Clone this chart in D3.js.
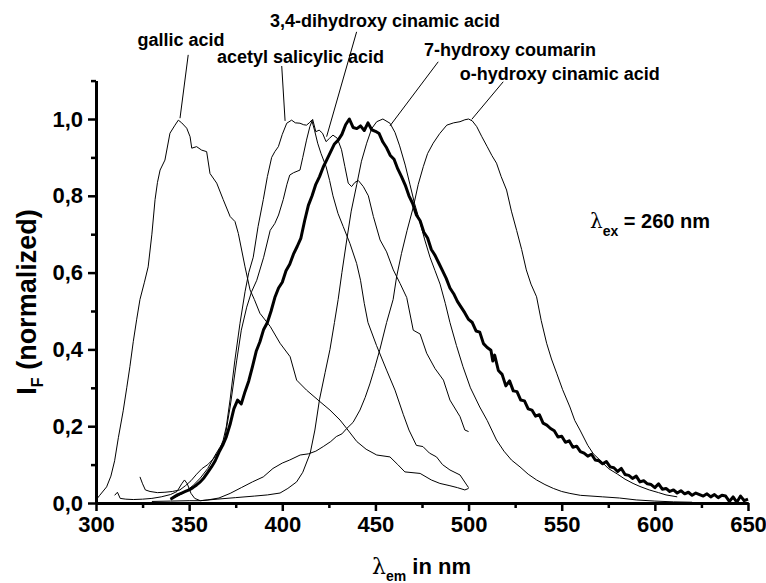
<!DOCTYPE html>
<html><head><meta charset="utf-8">
<script src="https://cdn.jsdelivr.net/npm/d3@7"></script>
<style>body{margin:0;background:#fff}</style>
</head><body>
<svg id="c" width="766" height="583"></svg>
<script>
// ---- data: [wavelength nm, normalized intensity] ----
const gallicData = [[300,0.008],[302,0.02],[305.7,0.042],[308,0.07],[310,0.11],[312,0.17],[314.6,0.24],[316.5,0.30],[318.2,0.355],[320,0.42],[321.8,0.477],[323.6,0.53],[326,0.575],[328,0.615],[330,0.70],[331.7,0.79],[333,0.835],[334.4,0.867],[337,0.893],[339.7,0.963],[342.4,0.984],[344.2,0.997],[346,0.99],[348.7,0.976],[350.5,0.954],[351.4,0.924],[354,0.928],[356.7,0.919],[359.4,0.915],[361.2,0.858],[364.8,0.833],[368.3,0.79],[372,0.746],[374.6,0.733],[376.4,0.702],[380,0.615],[382.7,0.555],[385,0.53],[388,0.494],[393.5,0.46],[398.8,0.416],[404.2,0.381],[407.7,0.32],[413,0.294],[420.2,0.264],[425.6,0.242],[431,0.216],[434.6,0.194],[440,0.16],[445,0.14],[450.7,0.125],[457.8,0.12],[462,0.10],[465.8,0.081],[474,0.077],[480,0.06],[484.6,0.051],[490,0.045],[494,0.04],[498,0.034],[500,0.038]];
const acetylData = [[323.6,0.068],[325,0.05],[326.5,0.034],[329,0.03],[333,0.027],[337,0.028],[341,0.03],[345,0.034],[348,0.045],[351,0.058],[354,0.075],[357,0.09],[360,0.10],[363,0.115],[366,0.135],[368.3,0.164],[370,0.20],[372,0.27],[374.5,0.37],[377.3,0.468],[380,0.55],[382,0.60],[384.4,0.64],[387,0.72],[389.8,0.79],[392,0.85],[394.3,0.90],[396,0.915],[397.9,0.928],[400,0.96],[402.4,0.989],[405,0.997],[407,0.99],[409.5,0.989],[411.5,0.985],[413,0.984],[414.5,0.99],[415.8,0.997],[417.3,0.971],[419,0.937],[420.8,0.91],[423.5,0.876],[425.4,0.84],[427.2,0.80],[429.9,0.754],[432.7,0.72],[436.3,0.676],[439.9,0.624],[442,0.58],[444,0.52],[446,0.47],[450.6,0.41],[456,0.346],[460.5,0.294],[465,0.23],[468,0.19],[472,0.15],[475.5,0.147],[479,0.13],[482.8,0.12],[486,0.10],[490,0.086],[495.4,0.073],[499,0.047],[500,0.04]];
const dihydroxyData = [[340,0.01],[344,0.018],[348,0.03],[352,0.045],[356,0.065],[360,0.09],[364,0.125],[366.5,0.145],[369,0.164],[372,0.25],[375.5,0.37],[378,0.45],[380.9,0.51],[383.5,0.55],[386.3,0.58],[390,0.64],[393.5,0.71],[396,0.728],[398,0.75],[400.5,0.79],[402.5,0.83],[404,0.854],[406,0.86],[409.5,0.867],[411,0.90],[413,0.945],[414.8,0.98],[416.3,0.999],[418,0.967],[419.8,0.971],[421.6,0.963],[423.5,0.941],[425.4,0.95],[427.2,0.958],[429.5,0.95],[431.8,0.92],[433.6,0.876],[435.4,0.833],[437.2,0.824],[439,0.835],[440.8,0.84],[443.5,0.824],[446.2,0.80],[448.9,0.746],[452.5,0.685],[456,0.654],[459.6,0.607],[463.2,0.572],[466.8,0.535],[470.3,0.45],[474,0.44],[477.5,0.39],[482,0.35],[486.5,0.32],[490,0.268],[495.4,0.225],[498,0.19],[500,0.186]];
const coumarinData = [[330,0.004],[340,0.005],[350,0.006],[356,0.006],[365,0.01],[375,0.014],[385,0.018],[392,0.021],[398.8,0.026],[403,0.038],[407.7,0.055],[411,0.08],[415,0.13],[417.5,0.19],[420,0.27],[423,0.34],[425.6,0.40],[428,0.47],[430,0.53],[432,0.60],[434.6,0.685],[437,0.76],[440,0.83],[442.5,0.89],[445.3,0.937],[448,0.975],[450.7,0.993],[454,1.0],[457.8,0.989],[460.5,0.965],[463,0.93],[466,0.88],[468.5,0.83],[471,0.78],[474,0.73],[476.5,0.685],[479.3,0.64],[482,0.605],[484.7,0.57],[487.5,0.52],[490,0.47],[493.5,0.41],[497,0.355],[501,0.30],[506,0.25],[510,0.215],[515,0.164],[519,0.135],[523,0.112],[527.6,0.094],[532,0.075],[536.5,0.06],[541,0.048],[545.5,0.038],[550,0.03],[554.4,0.025],[560,0.02],[572,0.016],[581,0.013],[590,0.008],[600,0.005],[610,0.003],[620,0.002]];
const ohydroxyData = [[310,0.02],[311.5,0.028],[313,0.012],[316,0.01],[320,0.009],[325,0.01],[330,0.012],[335,0.016],[340,0.022],[343.5,0.03],[346,0.05],[347.5,0.06],[349,0.05],[351,0.025],[353,0.012],[356,0.006],[360,0.008],[366,0.013],[372,0.025],[378,0.04],[384,0.055],[389.8,0.068],[395,0.09],[400,0.104],[404,0.112],[409.6,0.125],[414,0.128],[418,0.135],[422,0.147],[426,0.16],[429,0.173],[432,0.18],[434.6,0.194],[438,0.21],[441.7,0.242],[444.5,0.275],[447,0.31],[449.5,0.35],[452.4,0.40],[456,0.47],[459.5,0.53],[461.4,0.59],[464,0.65],[467,0.71],[470.3,0.77],[473,0.83],[475.7,0.876],[478,0.91],[481,0.937],[484.5,0.962],[488.3,0.984],[492,0.99],[495.4,0.993],[498,0.998],[500,1.0],[502,0.995],[504.4,0.98],[507,0.955],[510,0.928],[512.5,0.905],[515,0.885],[517.5,0.85],[520.4,0.815],[523,0.76],[525.8,0.71],[528.5,0.66],[531,0.607],[533.5,0.57],[536.5,0.537],[539,0.475],[541.9,0.416],[544.5,0.375],[547.3,0.338],[550.5,0.295],[554.4,0.25],[557,0.215],[559.8,0.19],[564,0.15],[567,0.128],[570.5,0.112],[575,0.09],[580,0.075],[584,0.062],[588.3,0.051],[592,0.043],[597,0.034],[602,0.027],[606,0.021],[612,0.016]];
const sampleData = [[340,0.010],[342,0.016],[344,0.022],[346,0.026],[348,0.030],[350,0.034],[352,0.040],[354,0.047],[356,0.055],[358,0.066],[360,0.080],[362,0.094],[364,0.110],[366,0.132],[368,0.150],[370,0.173],[372,0.205],[374,0.245],[376,0.268],[378,0.258],[380,0.290],[382,0.318],[384,0.355],[386,0.395],[388,0.420],[390,0.452],[392,0.470],[394,0.500],[396,0.535],[398,0.560],[400,0.575],[402,0.605],[404,0.622],[406,0.648],[408,0.668],[410,0.690],[412,0.735],[414,0.775],[416,0.800],[418,0.830],[420,0.850],[422,0.875],[424,0.895],[426,0.915],[428,0.935],[430,0.945],[432,0.960],[434,0.985],[436,1.000],[438,0.978],[440,0.975],[442,0.982],[444,0.970],[446,0.990],[448,0.972],[450,0.968],[452,0.962],[454,0.940],[456,0.925],[458,0.905],[460,0.895],[462,0.870],[464,0.850],[466,0.828],[468,0.800],[470,0.780],[472,0.750],[474,0.735],[476,0.705],[478,0.690],[480,0.660],[482,0.645],[484,0.625],[486,0.605],[488,0.585],[490,0.560],[492,0.545],[494,0.525],[496,0.510],[498,0.495],[500,0.478],[502,0.470],[504,0.448],[506,0.445],[508,0.415],[510,0.405],[512,0.398],[513,0.370],[514,0.385],[516,0.345],[518,0.335],[520,0.305],[522,0.318],[524,0.292],[526,0.290],[528,0.268],[530,0.266],[532,0.245],[534,0.242],[536,0.226],[538,0.230],[540,0.208],[542,0.203],[544,0.194],[546,0.188],[548,0.172],[550,0.174],[552,0.158],[554,0.162],[556,0.145],[558,0.148],[560,0.134],[562,0.130],[564,0.122],[566,0.127],[568,0.112],[570,0.110],[572,0.102],[574,0.108],[576,0.094],[578,0.092],[580,0.082],[582,0.090],[584,0.074],[586,0.072],[588,0.064],[590,0.070],[592,0.055],[594,0.058],[596,0.050],[598,0.048],[600,0.040],[602,0.050],[604,0.036],[606,0.038],[608,0.030],[610,0.034],[612,0.026],[614,0.032],[616,0.024],[618,0.028],[620,0.020],[622,0.026],[624,0.022],[626,0.018],[628,0.024],[630,0.016],[632,0.022],[634,0.014],[636,0.020],[638,0.018],[640,0.004],[642,0.016],[644,0.002],[646,0.018],[648,0.006],[650,0.010]];

const xMajorTicks = [300,350,400,450,500,550,600,650];
const xMinorTicks = [325,375,425,475,525,575,625];
const yMajorTicks = [0,0.2,0.4,0.6,0.8,1.0];
const yMinorTicks = [0.1,0.3,0.5,0.7,0.9,1.1];

const labels = ["gallic acid","acetyl salicylic acid","3,4-dihydroxy cinamic acid","7-hydroxy coumarin","o-hydroxy cinamic acid"];
const labelAt = [[345.6,1.19],[409.8,1.146],[455.1,1.24],[522.2,1.164],[549,1.102]];
const leaderFrom = [[349.5,1.167],[399.7,1.138],[439.9,1.227],[483.7,1.149],[518.6,1.097]];
const leaderTo = [[345.1,1.002],[401.5,0.995],[423.8,0.954],[457.8,0.982],[501.7,0.999]];

// ---- drawing ----
const svg = d3.select("#c");
const FONT = "'Liberation Sans', Arial, sans-serif";
const x = d3.scaleLinear().domain([300,650]).range([96,748]);
const y = d3.scaleLinear().domain([0,1.1]).range([503,80.6]);

const line = d3.line().x(d=>x(d[0])).y(d=>y(d[1]));
const thin = [gallicData, acetylData, dihydroxyData, coumarinData, ohydroxyData];
svg.append("g").selectAll("path").data(thin).join("path")
  .attr("d", line).attr("fill","none").attr("stroke","#000").attr("stroke-width",1)
  .attr("stroke-linejoin","round");
svg.append("path").datum(sampleData).attr("d", line).attr("fill","none")
  .attr("stroke","#000").attr("stroke-width",3).attr("stroke-linejoin","round");

// axes
function styleAxis(g){
  g.select(".domain").attr("stroke-width",3);
  g.selectAll(".tick line").attr("stroke-width",2.5);
  g.selectAll("text").attr("font-family",FONT).attr("font-weight","bold").attr("font-size",22).attr("fill","#000");
}
const fmtY = d => d3.format(".1f")(d).replace(".",",");
svg.append("g").attr("transform","translate(0,503)")
  .call(d3.axisBottom(x).tickValues(xMinorTicks).tickSize(5).tickSizeOuter(0).tickFormat(""))
  .call(styleAxis);
svg.append("g").attr("transform","translate(0,503)")
  .call(d3.axisBottom(x).tickValues(xMajorTicks).tickSize(8).tickSizeOuter(0).tickPadding(5))
  .call(styleAxis);
svg.append("g").attr("transform","translate(96,0)")
  .call(d3.axisLeft(y).tickValues(yMinorTicks).tickSize(5).tickSizeOuter(0).tickFormat(""))
  .call(styleAxis);
svg.append("g").attr("transform","translate(96,0)")
  .call(d3.axisLeft(y).tickValues(yMajorTicks).tickSize(8).tickSizeOuter(0).tickPadding(5).tickFormat(fmtY))
  .call(styleAxis);

// annotations
const ann = svg.append("g");
labels.forEach((t,i)=>{
  ann.append("line")
    .attr("x1",x(leaderFrom[i][0])).attr("y1",y(leaderFrom[i][1]))
    .attr("x2",x(leaderTo[i][0])).attr("y2",y(leaderTo[i][1]))
    .attr("stroke","#000").attr("stroke-width",1);
  ann.append("text").attr("x",x(labelAt[i][0])).attr("y",y(labelAt[i][1]))
    .attr("text-anchor","middle").attr("font-family",FONT).attr("font-weight","bold")
    .attr("font-size",18).text(t);
});

// excitation text
const ex = svg.append("text").attr("x",590).attr("y",228).attr("font-family",FONT).attr("font-size",20).attr("font-weight","bold");
ex.append("tspan").attr("font-weight","normal").attr("font-family","'DejaVu Serif', serif").text("λ");
ex.append("tspan").attr("font-size",14).attr("dy",8).text("ex");
ex.append("tspan").attr("dy",-8).text(" = 260 nm");

// axis titles
const xt = svg.append("text").attr("x",372).attr("y",574).attr("font-family",FONT).attr("font-size",22).attr("font-weight","bold");
xt.append("tspan").attr("font-weight","normal").attr("font-family","'DejaVu Serif', serif").text("λ");
xt.append("tspan").attr("font-size",14).attr("dy",7).text("em");
xt.append("tspan").attr("dy",-7).text(" in nm");

const yt = svg.append("text").attr("transform","translate(36,302) rotate(-90)").attr("text-anchor","middle")
  .attr("font-family",FONT).attr("font-size",27).attr("font-weight","bold");
yt.append("tspan").text("I");
yt.append("tspan").attr("font-size",16).attr("dy",7).text("F");
yt.append("tspan").attr("dy",-7).text(" (normalized)");
</script>
</body></html>
